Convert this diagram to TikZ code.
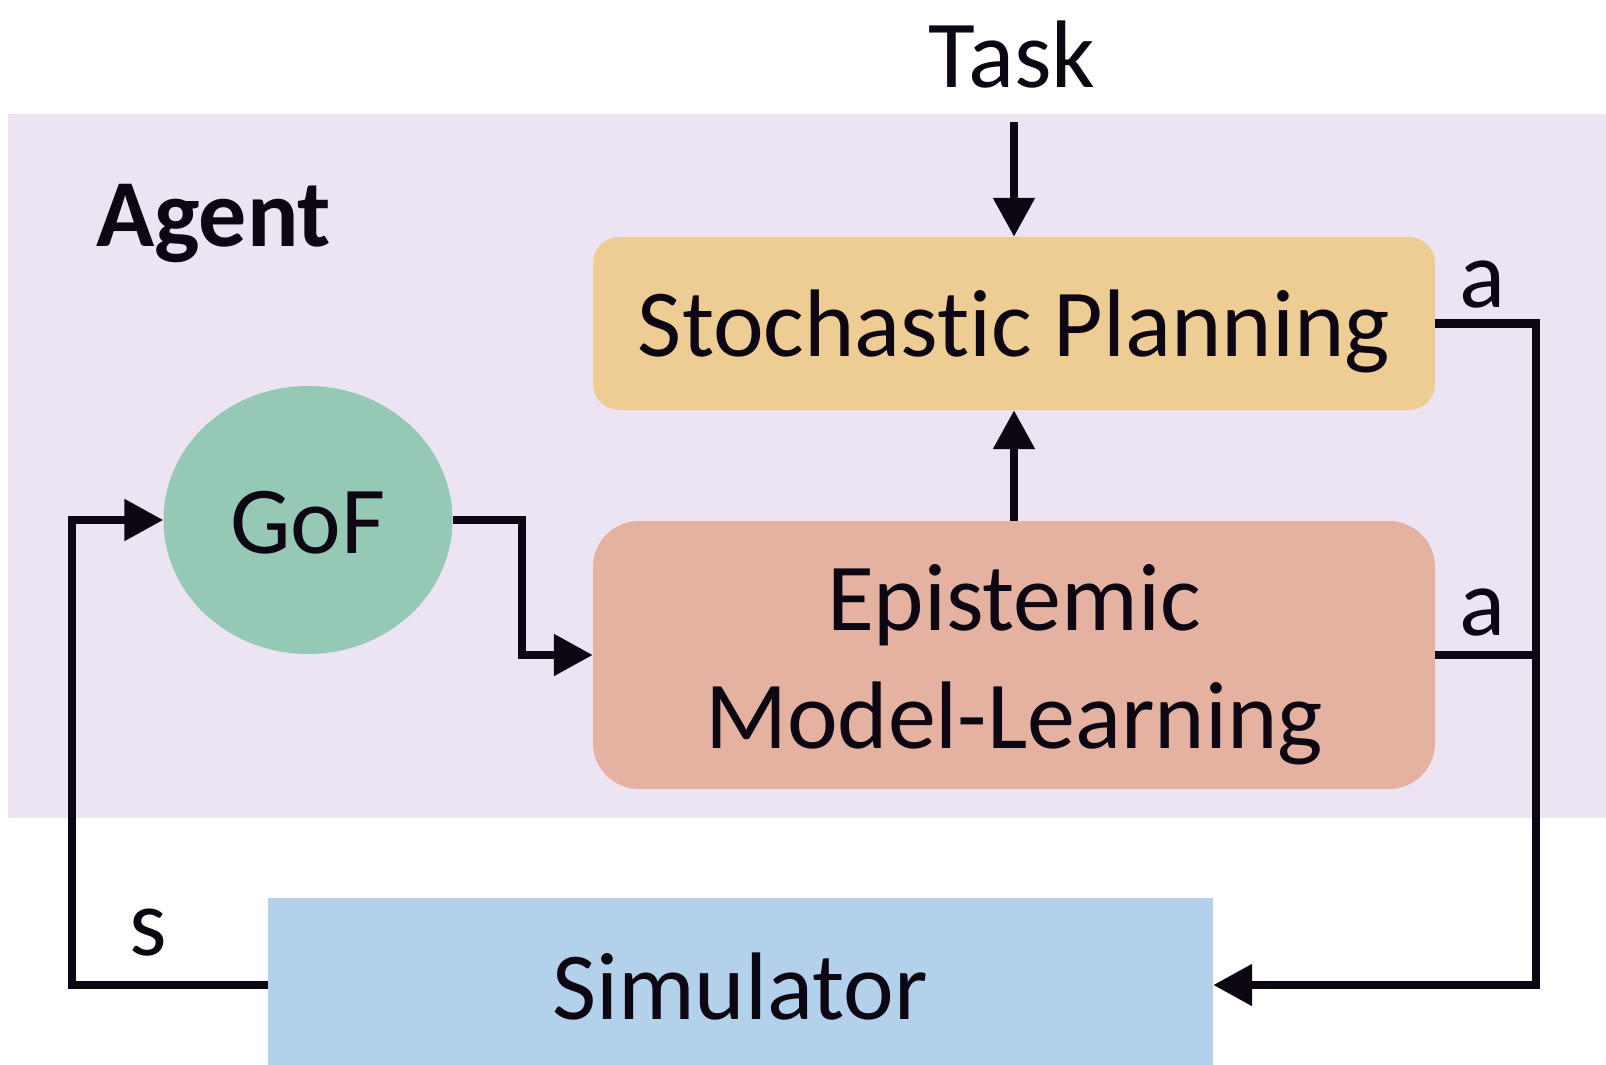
\documentclass[tikz,border=0pt]{standalone}
\usepackage{fontspec}
\setmainfont{Carlito}[Ligatures=NoCommon]
\usetikzlibrary{arrows.meta,shapes.geometric}
\definecolor{bgpurple}{HTML}{ECE4F3}
\definecolor{spcol}{HTML}{EDCD94}
\definecolor{emcol}{HTML}{E5B1A0}
\definecolor{gofcol}{HTML}{95C9B5}
\definecolor{simcol}{HTML}{B3D1EB}
\definecolor{ink}{HTML}{0D0714}
\begin{document}
\begin{tikzpicture}[x=1pt,y=-1pt,
  txt/.style={font=\fontsize{96}{100}\selectfont, text=ink, inner sep=0pt, anchor=base},
  conn/.style={draw=ink, line width=8.5pt, miter limit=10},
  arr/.style={conn, -{Triangle[length=39pt,width=40pt]}}]
\path[use as bounding box] (0,0) rectangle (1606,1065);
\fill[bgpurple] (8,114) rectangle (1606,818);
% boxes
\fill[spcol, rounded corners=26pt] (593,237) rectangle (1435,410);
\node[inner sep=0pt, minimum width=842pt, minimum height=173pt] (sp) at (1014,323.5) {};
\fill[emcol, rounded corners=46pt] (593,521) rectangle (1435,789);
\node[inner sep=0pt, minimum width=842pt, minimum height=268pt] (em) at (1014,655) {};
\fill[simcol] (268,898) rectangle (1213,1065);
\node[inner sep=0pt, minimum width=945pt, minimum height=174pt] (sim) at (740.5,985) {};
\node[ellipse, fill=gofcol, inner sep=0pt, minimum width=289pt, minimum height=268pt] (gof) at (308,520) {};
% texts
\node[txt] (tsp) at (1014,356) {Stochastic Planning};
\node[txt] (tem1) at (1014,630) {Epistemic};
\node[txt] (tem2) at (1014,748) {Model-Learning};
\node[txt] (tgof) at (308,553) {GoF};
\node[txt] (tsim) at (740,1019) {Simulator};
\node[txt] (task) at (1012,87) {Task};
\node[txt, anchor=base west, font=\fontsize{96}{100}\selectfont\bfseries] (agent) at (96,246) {Agent};
\node[txt] (a1) at (1482,307) {a};
\node[txt] (a2) at (1482,635) {a};
\node[txt] (s) at (148,955) {s};
% connectors
\coordinate (tasktop) at (1014,122);
\coordinate (cr) at (1536,655);
\draw[arr] (tasktop) -- (sp.north);
\draw[arr] (em.north) -- (sp.south);
\draw[arr] (gof.east) -- (522,520) |- (em.west);
\draw[arr] (sim.west) -- (72,985) |- (gof.west);
\draw[arr] (sp.east) -| (1536,985) -- (sim.east);
\draw[conn] (em.east) -- (cr);
\end{tikzpicture}
\end{document}
